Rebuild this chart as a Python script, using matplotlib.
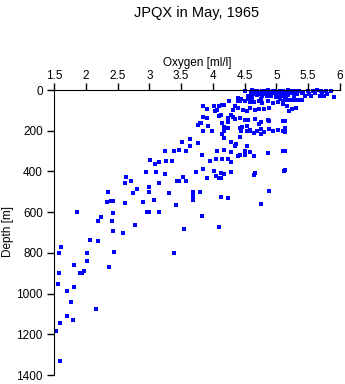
import matplotlib.pyplot as plt

# oxygen [ml/l] and depth [m]
oxygen = [
    # deep, low-oxygen samples
    2.43, 2.59, 2.07, 2.19, 1.61, 1.58, 2.02, 2.45, 3.39, 1.82, 2.02, 2.37, 1.58,
    1.91, 1.94, 1.97, 1.56, 1.82, 1.70, 1.77, 2.16, 1.70, 1.80, 1.59, 1.53, 1.59,
    # 400 - 700 m
    1.86, 2.24, 2.19, 2.43, 2.41, 2.78, 2.97, 3.00, 3.16, 3.55, 2.35, 2.40, 2.43,
    2.34, 2.62, 2.90, 3.08, 3.68, 3.42, 2.64, 2.71, 2.62, 2.81, 2.75, 3.00, 3.31,
    3.69, 3.68, 3.80, 2.94, 3.11, 3.25, 3.16, 3.00, 3.74, 3.53, 3.46, 3.57, 3.44,
    4.76, 4.89, 4.12, 4.24, 3.83, 4.10,
    # 250 - 450 m
    3.01, 3.09, 3.16, 3.27, 3.36, 3.25, 3.39, 3.47, 3.58, 3.64, 3.52, 3.64, 3.77,
    3.85, 3.90, 4.01, 4.12, 4.18, 4.28, 4.05, 4.09, 4.12, 4.67, 4.65, 5.14, 5.12,
    3.96, 4.05, 4.15, 4.24, 4.29, 3.83, 4.39, 4.43, 4.50, 4.64, 4.07, 4.17, 4.28,
    4.51, 4.59, 4.86, 5.11, 5.14, 4.28, 4.37, 4.35, 4.54, 4.42,
    # 100 - 250 m
    3.76, 3.79, 3.85, 3.99, 4.18, 4.15, 4.17, 4.45, 4.53, 4.59, 4.65, 4.75, 4.80,
    3.82, 4.24, 4.17, 3.93, 4.15, 4.23, 3.85, 3.90, 4.09, 4.12, 4.28, 4.31, 4.04,
    4.07, 3.91, 4.24, 4.35, 4.42, 4.51, 4.56, 4.67, 4.75, 4.86, 4.89, 4.72, 4.23,
    4.43, 4.46, 4.54, 4.59, 4.70, 4.76, 4.88, 4.94, 5.03, 5.13, 5.10, 5.14, 5.10,
    5.14,
    # 50 - 100 m
    3.85, 4.01, 4.09, 4.15, 4.18, 4.26, 4.40, 4.43, 4.51, 4.59, 4.64, 4.72, 4.78,
    4.86, 4.94, 5.03, 5.10, 4.35, 4.40, 4.48, 4.54, 4.59, 4.67, 4.72, 4.80, 4.88,
    4.31, 5.10, 5.17, 5.25, 5.30, 5.19, 5.13, 5.17, 5.22, 5.27, 5.32, 5.36, 5.41,
    4.40, 4.45, 4.55, 4.62, 4.75, 5.05, 5.15,
    # surface layer
    4.51, 4.62, 4.66, 4.70, 4.74, 4.78, 4.82, 4.86, 4.90, 4.94, 4.98, 5.02, 5.06,
    5.10, 5.14, 5.18, 5.24, 5.30, 5.36, 5.42, 5.50, 5.58, 5.64, 5.70, 5.78, 5.86,
    4.60, 4.64, 4.68, 4.72, 4.76, 4.80, 4.84, 4.88, 4.92, 4.96, 5.00, 5.04, 5.08,
    5.12, 5.16, 5.20, 5.26, 5.33, 5.40, 5.52, 5.60, 5.72, 5.80,
    4.56, 4.62, 4.70, 4.78, 4.85, 4.92, 5.00, 5.06, 5.12, 5.18, 5.28, 5.45, 5.55,
    5.68, 5.75, 5.90,
]
depth = [
    693, 702, 737, 742, 771, 801, 801, 796, 801, 860, 840, 869, 899,
    899, 899, 889, 953, 968, 987, 1041, 1076, 1110, 1130, 1145, 1184, 1331,
    599, 624, 643, 604, 643, 663, 599, 599, 599, 683, 501, 545, 545,
    550, 555, 550, 540, 540, 565, 427, 447, 457, 486, 506, 501, 506,
    501, 521, 501, 403, 403, 413, 457, 476, 403, 427, 447, 447, 447,
    560, 496, 526, 530, 619, 673,
    344, 363, 354, 349, 349, 300, 300, 295, 300, 275, 255, 241, 260,
    388, 432, 398, 408, 413, 403, 422, 432, 432, 408, 418, 393, 398,
    349, 339, 339, 339, 354, 319, 324, 319, 319, 324, 300, 295, 305,
    300, 305, 309, 300, 300, 255, 265, 275, 275, 231,
    172, 162, 201, 201, 201, 216, 236, 201, 201, 201, 211, 216, 206,
    162, 187, 182, 177, 162, 157, 133, 138, 128, 123, 123, 133, 103,
    98, 93, 138, 142, 138, 147, 147, 142, 157, 147, 152, 167, 187,
    187, 182, 177, 196, 201, 192, 192, 201, 196, 187, 152, 152, 201,
    206,
    79, 79, 79, 74, 74, 54, 54, 54, 54, 59, 59, 54, 64,
    54, 64, 59, 54, 79, 88, 98, 103, 88, 98, 93, 93, 88,
    98, 69, 79, 93, 88, 103, 49, 49, 49, 49, 49, 49, 49,
    40, 42, 45, 40, 42, 44, 40,
    5, 2, 6, 3, 8, 4, 7, 2, 9, 5, 3, 8, 6,
    4, 9, 2, 7, 5, 3, 8, 4, 6, 2, 7, 5, 3,
    16, 18, 15, 19, 17, 16, 20, 15, 18, 17, 19, 16, 20,
    15, 18, 17, 16, 19, 15, 18, 17, 16, 19,
    28, 30, 26, 31, 27, 29, 32, 28, 30, 26, 29, 31, 27,
    30, 28, 33,
]

plt.rcParams['font.family'] = ['Liberation Sans', 'DejaVu Sans']

fig = plt.figure(figsize=(3.45, 3.84), dpi=100)
ax = fig.add_axes([0.1565, 0.0234, 0.829, 0.7422])

ax.scatter(oxygen, depth, s=5, marker='s', color='#0000ff', linewidths=0, clip_on=False)

ax.set_xlim(1.5, 6)
ax.set_ylim(1400, 0)
ax.set_xticks([1.5, 2, 2.5, 3, 3.5, 4, 4.5, 5, 5.5, 6])
ax.set_xticklabels(['1.5', '2', '2.5', '3', '3.5', '4', '4.5', '5', '5.5', '6'])
ax.set_yticks([0, 200, 400, 600, 800, 1000, 1200, 1400])

ax.xaxis.tick_top()
ax.xaxis.set_label_position('top')
ax.spines['right'].set_visible(False)
ax.spines['bottom'].set_visible(False)
ax.tick_params(axis='both', direction='out', length=5, width=1, labelsize=8.5)
ax.tick_params(axis='x', pad=1)
ax.tick_params(axis='y', pad=3)

ax.set_xlabel("Oxygen [ml/l]", fontsize=8.5, labelpad=3)
fig.text(0.024, 0.396, "Depth [m]", rotation=90, ha='center', va='center', fontsize=8.5)
fig.text(0.571, 0.965, "JPQX in May, 1965", ha='center', va='center', fontsize=10.5)

fig.savefig("out.png", dpi=100)
